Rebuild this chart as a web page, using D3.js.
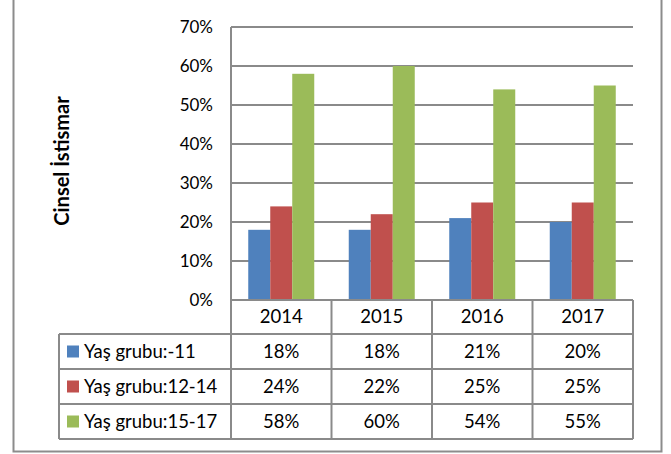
<!DOCTYPE html>
<html>
<head>
<meta charset="utf-8">
<script src="https://cdn.jsdelivr.net/npm/d3@7"></script>
<style>
  body { margin: 0; background: #fff; }
  text { font-family: Lato, "Open Sans", sans-serif; fill: #000; }
</style>
</head>
<body>
<div id="chart"></div>
<script>
//Data
var years = ["2014", "2015", "2016", "2017"];
var groups = ["Yaş grubu:-11", "Yaş grubu:12-14", "Yaş grubu:15-17"];
var group11 = [18, 18, 21, 20];
var group12_14 = [24, 22, 25, 25];
var group15_17 = [58, 60, 54, 55];
var yTicks = [0, 10, 20, 30, 40, 50, 60, 70];
var colors = ["#4F81BD", "#C0504D", "#9BBB59"];
var series = [group11, group12_14, group15_17];

//Sizes
var W = 671, H = 454;
var plotL = 231, plotR = 633, plotT = 27, plotB = 300;
var tableL = 59, rowH = 35, headH = 34;
var gridColor = "#8a8a8a";
var fontTable = 18.5;

var svg = d3.select("#chart").append("svg")
    .attr("width", W)
    .attr("height", H);

//Outer frame
svg.append("rect")
    .attr("x", 13.5).attr("y", -5)
    .attr("width", 648).attr("height", 456.5)
    .attr("fill", "none").attr("stroke", "#8c8c8c").attr("stroke-width", 2);

var x = d3.scaleBand().domain(years).range([plotL, plotR]);
var xInner = d3.scaleBand().domain(d3.range(3)).range([0, 66]);
var y = d3.scaleLinear().domain([0, 70]).range([plotB, plotT]);

//Gridlines
svg.append("g").selectAll("line")
    .data(yTicks)
    .join("line")
    .attr("x1", plotL).attr("x2", plotR)
    .attr("y1", function(d){ return y(d); })
    .attr("y2", function(d){ return y(d); })
    .attr("stroke", gridColor).attr("stroke-width", 2);

//Tick labels
svg.append("g").selectAll("text")
    .data(yTicks)
    .join("text")
    .attr("x", 213)
    .attr("y", function(d){ return y(d); })
    .attr("dy", "0.35em")
    .attr("text-anchor", "end")
    .attr("font-size", 17)
    .text(function(d){ return d + "%"; });

//Bars
series.forEach(function(vals, s){
    svg.append("g").selectAll("rect")
        .data(vals)
        .join("rect")
        .attr("x", function(d, i){ return x(years[i]) + (x.bandwidth() - 66) / 2 + xInner(s); })
        .attr("width", xInner.bandwidth())
        .attr("y", function(d){ return y(d); })
        .attr("height", function(d){ return y(0) - y(d); })
        .attr("fill", colors[s]);
});

//Axis line
svg.append("line")
    .attr("x1", plotL).attr("x2", plotL)
    .attr("y1", plotT).attr("y2", plotB + headH + rowH * 3)
    .attr("stroke", gridColor).attr("stroke-width", 2);

//Y axis title
svg.append("text")
    .attr("transform", "translate(69," + 161 + ") rotate(-90)")
    .attr("text-anchor", "middle")
    .attr("font-size", 20)
    .attr("font-weight", "bold")
    .text("Cinsel İstismar");

//Data table
var table = svg.append("g");
var tableB = plotB + headH + rowH * 3;

//horizontal lines
table.append("line")
    .attr("x1", plotL).attr("x2", plotR)
    .attr("y1", plotB).attr("y2", plotB)
    .attr("stroke", gridColor).attr("stroke-width", 2);
[0, 1, 2, 3].forEach(function(r){
    var yy = plotB + headH + rowH * r;
    table.append("line")
        .attr("x1", tableL).attr("x2", plotR)
        .attr("y1", yy).attr("y2", yy)
        .attr("stroke", gridColor).attr("stroke-width", 2);
});
//vertical lines
table.append("line")
    .attr("x1", tableL).attr("x2", tableL)
    .attr("y1", plotB + headH).attr("y2", tableB)
    .attr("stroke", gridColor).attr("stroke-width", 2);
years.forEach(function(yr){
    var xx = x(yr) + x.bandwidth();
    table.append("line")
        .attr("x1", xx).attr("x2", xx)
        .attr("y1", plotB).attr("y2", tableB)
        .attr("stroke", gridColor).attr("stroke-width", 2);
});

//Header
table.selectAll("text.year")
    .data(years)
    .join("text")
    .attr("class", "year")
    .attr("x", function(d){ return x(d) + x.bandwidth() / 2; })
    .attr("y", plotB + headH / 2)
    .attr("dy", "0.35em")
    .attr("text-anchor", "middle")
    .attr("font-size", fontTable)
    .text(function(d){ return d; });

//Rows
groups.forEach(function(g, r){
    var cy = plotB + headH + rowH * r + rowH / 2;
    table.append("rect")
        .attr("x", 67).attr("y", cy - 6)
        .attr("width", 12).attr("height", 12)
        .attr("fill", colors[r]);
    table.append("text")
        .attr("x", 84).attr("y", cy)
        .attr("dy", "0.35em")
        .attr("font-size", fontTable)
        .text(g);
    series[r].forEach(function(v, i){
        table.append("text")
            .attr("x", x(years[i]) + x.bandwidth() / 2)
            .attr("y", cy)
            .attr("dy", "0.35em")
            .attr("text-anchor", "middle")
            .attr("font-size", fontTable)
            .text(v + "%");
    });
});
</script>
</body>
</html>
